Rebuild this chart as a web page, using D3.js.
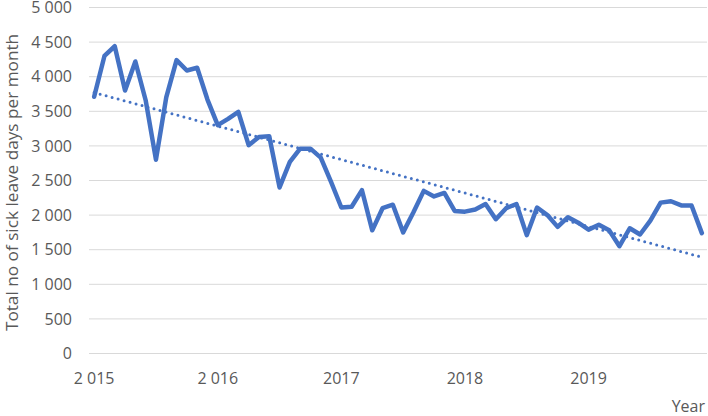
<!DOCTYPE html>
<html>
<head>
<meta charset="utf-8">
<script src="https://cdn.jsdelivr.net/npm/d3@7"></script>
<style>
  html, body { margin: 0; padding: 0; background: #fff; }
  svg { display: block; }
  text { font-family: "Open Sans", "Liberation Sans", sans-serif; fill: #595959; }
</style>
</head>
<body>
<svg id="chart" width="708" height="416"></svg>
<script>
// Monthly totals, Jan 2015 .. Dec 2019
const sickDays = [
  3710, 4300, 4440, 3800, 4220, 3660, 2800, 3700, 4240, 4090, 4130, 3670,
  3300, 3390, 3490, 3010, 3130, 3140, 2400, 2770, 2960, 2960, 2830, 2480,
  2110, 2120, 2360, 1780, 2100, 2150, 1750, 2040, 2350, 2270, 2320, 2060,
  2050, 2080, 2160, 1940, 2100, 2160, 1710, 2110, 2000, 1830, 1970, 1890,
  1790, 1860, 1780, 1550, 1810, 1720, 1920, 2180, 2200, 2140, 2140, 1740
];
const yTicks = [0, 500, 1000, 1500, 2000, 2500, 3000, 3500, 4000, 4500, 5000];
const xTickLabels = ["2 015", "2 016", "2017", "2018", "2019"];
const yAxisTitle = "Total no of sick leave days per month";
const xAxisTitle = "Year";

const svg = d3.select("#chart");
const pLeft = 89, pRight = 707, pTop = 7.5, pBottom = 353.5;
const x = d3.scalePoint().domain(d3.range(sickDays.length)).range([pLeft, pRight]).padding(0.5);
const y = d3.scaleLinear().domain([0, 5000]).range([pBottom, pTop]);
const fmt = v => d3.format(",")(v).replace(/,/g, " ");

// gridlines
svg.append("g").selectAll("line").data(yTicks).join("line")
  .attr("x1", pLeft).attr("x2", pRight)
  .attr("y1", d => y(d)).attr("y2", d => y(d))
  .attr("stroke", "#D9D9D9").attr("stroke-width", 1);

// y tick labels
svg.append("g").selectAll("text").data(yTicks).join("text")
  .attr("x", 72).attr("y", d => y(d)).attr("dy", "0.35em")
  .attr("text-anchor", "end").attr("font-size", 16)
  .text(fmt);

// x tick labels (each January)
svg.append("g").selectAll("text").data(xTickLabels).join("text")
  .attr("x", (d, i) => x(i * 12)).attr("y", 384)
  .attr("text-anchor", "middle").attr("font-size", 16)
  .text(d => d);

// axis titles
svg.append("text").attr("x", 705).attr("y", 412).attr("text-anchor", "end")
  .attr("font-size", 16).text(xAxisTitle);
svg.append("text")
  .attr("transform", `translate(17.5,${(pTop + pBottom) / 2 + 2}) rotate(-90)`)
  .attr("text-anchor", "middle").attr("font-size", 17.2)
  .text(yAxisTitle);

// data line
const line = d3.line().x((d, i) => x(i)).y(d => y(d));
svg.append("path").datum(sickDays)
  .attr("d", line).attr("fill", "none")
  .attr("stroke", "#4472C4").attr("stroke-width", 4.5)
  .attr("stroke-linejoin", "round").attr("stroke-linecap", "round");

// linear trend line (least squares on the data)
const n = sickDays.length;
const xs = d3.range(n);
const mx = d3.mean(xs), my = d3.mean(sickDays);
const slope = d3.sum(xs, i => (i - mx) * (sickDays[i] - my)) / d3.sum(xs, i => (i - mx) ** 2);
const intercept = my - slope * mx;
svg.append("line")
  .attr("x1", x(0)).attr("y1", y(intercept))
  .attr("x2", x(n - 1)).attr("y2", y(intercept + slope * (n - 1)))
  .attr("stroke", "#4472C4").attr("stroke-width", 3)
  .attr("stroke-dasharray", "0 6.2").attr("stroke-linecap", "round");
</script>
</body>
</html>
